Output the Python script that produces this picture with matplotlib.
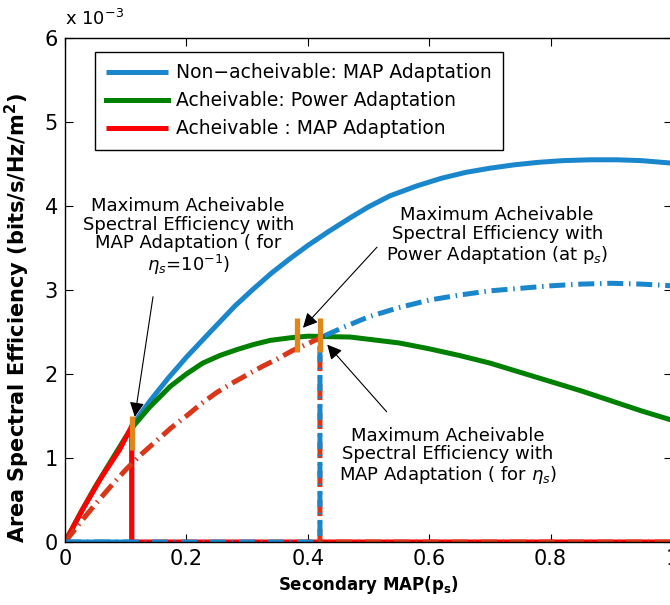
import matplotlib
matplotlib.use("Agg")
import matplotlib.pyplot as plt
import numpy as np

plt.rcParams["font.family"] = ["DejaVu Sans"]
plt.rcParams["mathtext.fontset"] = "dejavusans"

SCALE = 1e-3  # y values below are in units of 10^-3 bits/s/Hz/m^2

# MAP adaptation for eta_s = 10^-1
map_eta1_x = [0, 0.03, 0.06, 0.09, 0.11, 0.14, 0.17, 0.20, 0.23, 0.255, 0.28,
              0.31, 0.34, 0.37, 0.40, 0.435, 0.47, 0.50, 0.535, 0.58, 0.62,
              0.66, 0.70, 0.74, 0.78, 0.82, 0.865, 0.91, 0.95, 1.0]
map_eta1_y = [0, 0.40, 0.77, 1.10, 1.38, 1.68, 1.95, 2.20, 2.43, 2.62, 2.81,
              3.01, 3.20, 3.37, 3.53, 3.70, 3.86, 3.99, 4.12, 4.24, 4.33,
              4.40, 4.45, 4.49, 4.52, 4.54, 4.55, 4.55, 4.54, 4.51]
p_eta1 = 0.11

# MAP adaptation for eta_s
map_etas_x = [0, 0.025, 0.05, 0.075, 0.10, 0.125, 0.15, 0.175, 0.20, 0.225,
              0.25, 0.275, 0.30, 0.325, 0.35, 0.375, 0.40, 0.42, 0.46, 0.50,
              0.55, 0.60, 0.65, 0.70, 0.75, 0.80, 0.85, 0.90, 0.95, 1.0]
map_etas_y = [0, 0.23, 0.45, 0.66, 0.86, 1.04, 1.20, 1.36, 1.50, 1.65,
              1.78, 1.89, 1.99, 2.09, 2.18, 2.28, 2.36, 2.43, 2.56, 2.68,
              2.79, 2.88, 2.94, 2.99, 3.02, 3.05, 3.07, 3.08, 3.07, 3.05]
p_etas = 0.42

# Power adaptation
power_x = [0, 0.025, 0.05, 0.10, 0.115, 0.14, 0.173, 0.20, 0.227, 0.255, 0.283,
           0.31, 0.338, 0.37, 0.40, 0.47, 0.55, 0.60, 0.65, 0.70, 0.75, 0.80,
           0.85, 0.90, 0.95, 1.0]
power_y = [0, 0.34, 0.66, 1.25, 1.40, 1.61, 1.85, 2.00, 2.13, 2.22, 2.29,
           2.35, 2.40, 2.43, 2.45, 2.44, 2.37, 2.30, 2.22, 2.13, 2.02, 1.91,
           1.80, 1.68, 1.56, 1.45]

# Operating points highlighted on the curves
marker_x = [0.11, 0.382, 0.42]
marker_y = [1.30, 2.46, 2.46]

x_ticks = [0, 0.2, 0.4, 0.6, 0.8, 1]
x_tick_labels = ["0", "0.2", "0.4", "0.6", "0.8", "1"]
y_ticks = [0, 1, 2, 3, 4, 5, 6]

legend_labels = ["Non\u2212acheivable: MAP Adaptation",
                 "Acheivable: Power Adaptation",
                 "Acheivable : MAP Adaptation"]

BLUE = "#1a86cc"
GREEN = "#008000"
RED = "#ff0000"
ORANGE_RED = "#d9361a"
ORANGE = "#e0861a"


def split_series(x, y, p):
    """Achievable part: curve up to p then zero; non-achievable: zero up to p then curve."""
    x = np.asarray(x, float)
    y = np.asarray(y, float) * SCALE
    lo = x <= p
    hi = x >= p
    ach_x = np.concatenate([x[lo], [p, 1.0]])
    ach_y = np.concatenate([y[lo], [0.0, 0.0]])
    non_x = np.concatenate([[0.0, p], x[hi]])
    non_y = np.concatenate([[0.0, 0.0], y[hi]])
    return (ach_x, ach_y), (non_x, non_y)


(ach1_x, ach1_y), (non1_x, non1_y) = split_series(map_eta1_x, map_eta1_y, p_eta1)
(achs_x, achs_y), (nons_x, nons_y) = split_series(map_etas_x, map_etas_y, p_etas)

fig = plt.figure(figsize=(6.7, 6.05), dpi=100)
ax = fig.add_axes([65 / 670, 63 / 605, 607 / 670, 504 / 605])

LW = 3.6
pattern = (3.2, 1.15, 0.3, 1.15)
dashdot_blue = (0, pattern)
dashdot_red = (0, pattern)

l_non, = ax.plot(non1_x, non1_y, color=BLUE, lw=LW, solid_capstyle="butt")
l_pow, = ax.plot(power_x, np.asarray(power_y) * SCALE, color=GREEN, lw=LW)
l_ach, = ax.plot(ach1_x, ach1_y, color=RED, lw=LW, solid_capstyle="butt")
ax.plot(achs_x, achs_y, color=ORANGE_RED, lw=LW, ls=dashdot_red, dash_capstyle="butt")
ax.plot(nons_x, nons_y, color=BLUE, lw=LW, ls=dashdot_blue, dash_capstyle="butt")

ax.plot(marker_x, np.asarray(marker_y) * SCALE, ls="none", marker="|",
        markersize=24, mew=3.8, color=ORANGE, zorder=5)

ax.set_xlim(0, 1)
ax.set_ylim(0, 6 * SCALE)
ax.set_xticks(x_ticks)
ax.set_xticklabels(x_tick_labels)
ax.set_yticks([t * SCALE for t in y_ticks])
ax.set_yticklabels([str(t) for t in y_ticks])
ax.tick_params(direction="in", top=True, right=True, length=6, width=0.8,
               labelsize=15, pad=5)
for s in ax.spines.values():
    s.set_linewidth(1.0)

ax.set_xlabel("Secondary MAP(p$_\\mathbf{s}$)", fontsize=12, fontweight="bold",
              labelpad=4)
ax.set_ylabel("Area Spectral Efficiency (bits/s/Hz/m$^\\mathbf{2}$)", fontsize=15,
              fontweight="bold")
ax.yaxis.set_label_coords(-0.054, 0.444)
fig.text(65 / 670, 1 - 19 / 605, "x 10$^{-3}$", fontsize=13, ha="left", va="center")

leg = ax.legend([l_non, l_pow, l_ach], legend_labels, loc="upper left",
                bbox_to_anchor=(0.049, 0.972), borderaxespad=0, fontsize=13.5,
                handlelength=3.3, handletextpad=0.45, labelspacing=0.48,
                borderpad=0.6, fancybox=False, framealpha=1, edgecolor="black")
leg.get_frame().set_linewidth(1.0)

arrow = dict(arrowstyle="-|>", color="black", lw=0.8, mutation_scale=22,
             shrinkA=0, shrinkB=0)
ANN_FS = 13

ax.text(0.203, 3.63 * SCALE,
        "Maximum Acheivable\nSpectral Efficiency with\nMAP Adaptation ( for\n$\\eta_s$=10$^{-1}$)",
        ha="center", va="center", fontsize=ANN_FS, linespacing=1.05)
ax.annotate("", xy=(0.115, 1.49 * SCALE), xytext=(0.145, 2.92 * SCALE),
            arrowprops=arrow, zorder=6)

ax.text(0.712, 3.64 * SCALE,
        "Maximum Acheivable\nSpectral Efficiency with\nPower Adaptation (at p$_s$)",
        ha="center", va="center", fontsize=ANN_FS, linespacing=1.05)
ax.annotate("", xy=(0.392, 2.55 * SCALE), xytext=(0.514, 3.51 * SCALE),
            arrowprops=arrow, zorder=6)

ax.text(0.631, 1.02 * SCALE,
        "Maximum Acheivable\nSpectral Efficiency with\nMAP Adaptation ( for $\\eta_s$)",
        ha="center", va="center", fontsize=ANN_FS, linespacing=1.05)
ax.annotate("", xy=(0.432, 2.35 * SCALE), xytext=(0.530, 1.55 * SCALE),
            arrowprops=arrow, zorder=6)

fig.savefig("out.png", dpi=100)
